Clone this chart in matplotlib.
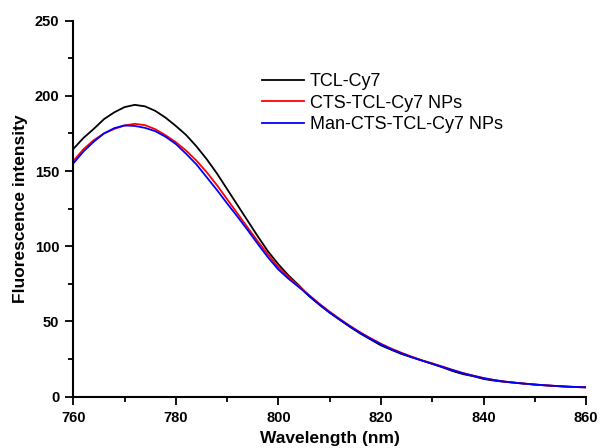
import matplotlib
matplotlib.use("Agg")
import matplotlib.pyplot as plt
from matplotlib.ticker import MultipleLocator

plt.rcParams["font.family"] = ["Liberation Sans", "DejaVu Sans"]

wavelength = list(range(760, 861, 2))

tcl_cy7 = [
    164.6, 172.0, 178.0, 184.5, 189.0, 192.5, 194.0, 193.0, 190.0, 185.5,
    180.0, 174.0, 166.5, 158.0, 148.5, 138.0, 127.5, 117.0, 106.5, 96.5,
    88.0, 80.5, 74.0, 66.8, 61.1, 55.8, 51.0, 46.3, 41.9, 38.0,
    34.1, 31.2, 28.4, 26.2, 24.0, 21.8, 19.5, 17.0, 15.0, 13.6,
    11.8, 10.7, 9.9, 9.3, 8.6, 8.0, 7.5, 7.1, 6.7, 6.4, 6.2,
]
cts_np = [
    156.6, 164.5, 170.5, 175.0, 178.0, 180.3, 181.4, 180.5, 177.8, 173.8,
    169.2, 163.6, 157.0, 149.3, 140.7, 131.3, 121.9, 112.5, 103.2, 94.5,
    86.0, 79.5, 73.5, 67.5, 61.8, 56.5, 51.6, 47.0, 42.7, 38.8,
    35.2, 32.0, 29.2, 26.6, 24.2, 22.2, 20.0, 17.8, 15.7, 14.0,
    12.4, 11.1, 10.1, 9.4, 8.7, 8.1, 7.6, 7.1, 6.7, 6.4, 6.2,
]
man_cts_np = [
    155.0, 163.0, 169.5, 175.0, 178.5, 180.3, 180.0, 178.7, 176.5, 172.8,
    168.0, 161.5, 154.5, 146.0, 137.5, 128.5, 119.8, 110.8, 101.5, 92.5,
    84.5, 78.3, 72.8, 67.0, 61.3, 56.0, 51.2, 46.6, 42.3, 38.4,
    34.8, 31.6, 28.8, 26.3, 24.0, 21.9, 19.8, 17.6, 15.6, 13.9,
    12.3, 11.1, 10.1, 9.3, 8.7, 8.1, 7.6, 7.2, 6.8, 6.5, 6.3,
]

series = [
    ("TCL-Cy7", tcl_cy7, "black"),
    ("CTS-TCL-Cy7 NPs", cts_np, "red"),
    ("Man-CTS-TCL-Cy7 NPs", man_cts_np, "blue"),
]

fig = plt.figure(figsize=(6.0, 4.48), dpi=100)
ax = fig.add_axes([0.122, 0.1145, 0.855, 0.8395])

for label, values, color in series:
    ax.plot(wavelength, values, color=color, linewidth=1.3, label=label)

ax.set_xlim(760, 860)
ax.set_ylim(0, 250)
ax.xaxis.set_major_locator(MultipleLocator(20))
ax.xaxis.set_minor_locator(MultipleLocator(10))
ax.yaxis.set_major_locator(MultipleLocator(50))
ax.yaxis.set_minor_locator(MultipleLocator(25))

for side in ("top", "right"):
    ax.spines[side].set_visible(False)
for side in ("left", "bottom"):
    ax.spines[side].set_linewidth(1.5)

ax.tick_params(axis="both", which="major", direction="out", length=6, width=1.3,
               labelsize=10.5, pad=4)
ax.tick_params(axis="both", which="minor", direction="out", length=3.5, width=1.3)
for lbl in ax.get_xticklabels() + ax.get_yticklabels():
    lbl.set_fontweight("bold")

ax.set_xlabel("Wavelength (nm)", fontsize=12.5, fontweight="bold", labelpad=4.5)
ax.set_ylabel("Fluorescence intensity", fontsize=12.5, fontweight="bold", labelpad=5)

ax.legend(loc="upper left", bbox_to_anchor=(0.437, 0.837), bbox_transform=fig.transFigure,
          frameon=False, fontsize=13, handlelength=2.3, handletextpad=0.35,
          labelspacing=0.26, borderaxespad=0, borderpad=0)

fig.savefig("out.png", dpi=100)
